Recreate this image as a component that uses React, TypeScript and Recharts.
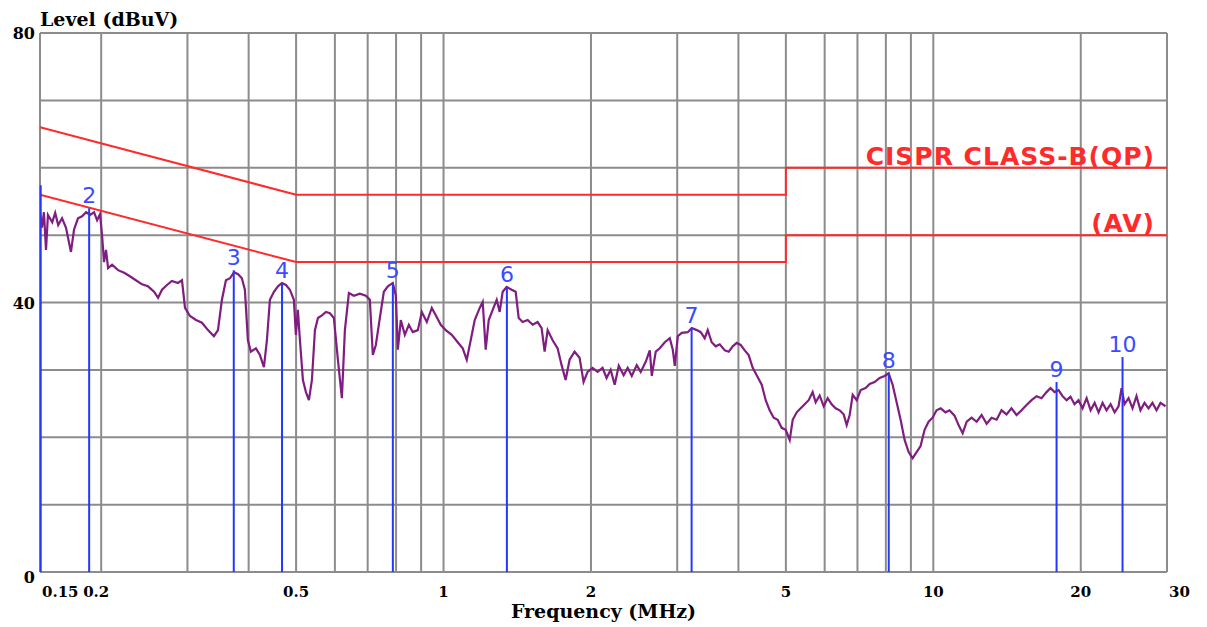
import React from 'react';
import {
  ComposedChart,
  Line,
  XAxis,
  YAxis,
  CartesianGrid,
  ReferenceLine,
  LabelList
} from 'recharts';

const traceFreq = [
  0.150, 0.1514, 0.1528, 0.1543, 0.1557, 0.1589, 0.1611, 0.1634, 0.1664, 0.1695,
  0.1735, 0.1760, 0.1793, 0.1828, 0.1863, 0.1898, 0.1934, 0.1962, 0.1989, 0.2008,
  0.2027, 0.2046, 0.2066, 0.2105, 0.2165, 0.2228, 0.2289, 0.2354, 0.2423, 0.2492,
  0.2564, 0.2613, 0.2662, 0.2725, 0.2789, 0.2869, 0.2924, 0.2966, 0.3036, 0.3123,
  0.3212, 0.3304, 0.3398, 0.3463, 0.3528, 0.3595, 0.3665, 0.3735, 0.3806, 0.3875,
  0.3930, 0.3986, 0.4043, 0.4139, 0.4218, 0.4298, 0.4359, 0.4421, 0.4505, 0.4591,
  0.4678, 0.4767, 0.4856, 0.4948, 0.4995, 0.5042, 0.5091, 0.5163, 0.5237, 0.5311,
  0.5386, 0.5463, 0.5541, 0.5645, 0.5752, 0.5861, 0.5972, 0.6086, 0.6201, 0.6289,
  0.6409, 0.6560, 0.6747, 0.6940, 0.7072, 0.7172, 0.7274, 0.7412, 0.7553, 0.7697,
  0.7879, 0.7991, 0.8067, 0.8180, 0.8336, 0.8495, 0.8655, 0.8862, 0.9028, 0.9244,
  0.9462, 0.9642, 0.9870, 1.0105, 1.0393, 1.0691, 1.0944, 1.1153, 1.1363, 1.1579,
  1.1854, 1.2022, 1.2193, 1.2367, 1.2600, 1.2840, 1.3021, 1.3206, 1.3457, 1.3775,
  1.4037, 1.4238, 1.4506, 1.4852, 1.5203, 1.5566, 1.5859, 1.6085, 1.6314, 1.6700,
  1.7098, 1.7420, 1.7752, 1.8087, 1.8517, 1.8957, 1.9317, 1.9685, 2.0150, 2.0631,
  2.1119, 2.1521, 2.194, 2.236, 2.279, 2.332, 2.377, 2.423, 2.480, 2.527,
  2.587, 2.637, 2.662, 2.712, 2.764, 2.830, 2.897, 2.938, 2.966, 3.008,
  3.065, 3.153, 3.212, 3.289, 3.351, 3.414, 3.463, 3.528, 3.595, 3.664,
  3.751, 3.823, 3.894, 3.968, 4.043, 4.120, 4.198, 4.278, 4.359, 4.463,
  4.547, 4.633, 4.721, 4.811, 4.902, 4.995, 5.091, 5.163, 5.262, 5.360,
  5.462, 5.566, 5.671, 5.752, 5.861, 5.972, 6.086, 6.200, 6.318, 6.439,
  6.561, 6.655, 6.749, 6.845, 6.975, 7.106, 7.275, 7.413, 7.589, 7.770,
  7.955, 8.106, 8.259, 8.416, 8.575, 8.738, 8.905, 9.072, 9.245, 9.419,
  9.598, 9.781, 9.966, 10.155, 10.35, 10.59, 10.79, 11.05, 11.26, 11.48,
  11.70, 11.97, 12.26, 12.55, 12.85, 13.15, 13.47, 13.78, 14.11, 14.44,
  14.79, 15.14, 15.50, 15.87, 16.25, 16.63, 17.03, 17.35, 17.68, 18.02,
  18.36, 18.71, 19.06, 19.42, 19.79, 20.17, 20.56, 20.95, 21.35, 21.75,
  22.16, 22.58, 23.01, 23.45, 23.89, 24.23, 24.57, 25.04, 25.51, 25.99,
  26.48, 26.99, 27.50, 28.02, 28.56, 29.10, 29.79
];
const traceLevel = [
  53.4, 51.1, 53.4, 47.8, 53.0, 51.9, 53.3, 51.5, 52.5, 51.1,
  47.5, 50.8, 52.5, 52.8, 53.4, 53.0, 53.4, 52.2, 53.1, 50.0,
  46.0, 47.8, 45.1, 45.6, 44.8, 44.4, 43.9, 43.3, 42.7, 42.4,
  41.6, 40.7, 41.9, 42.6, 43.2, 42.9, 43.3, 39.2, 38.0, 37.4,
  37.0, 35.9, 35.0, 35.9, 40.4, 43.3, 43.6, 44.5, 44.2, 43.6,
  41.9, 34.4, 32.7, 33.2, 32.2, 30.4, 34.4, 40.4, 41.6, 42.4,
  42.9, 42.6, 41.9, 40.4, 35.2, 38.9, 34.4, 28.5, 26.7, 25.5,
  28.5, 35.9, 37.7, 38.1, 38.6, 38.4, 37.7, 31.5, 25.8, 35.9,
  41.4, 41.0, 41.3, 41.0, 40.4, 32.2, 33.7, 37.7, 41.6, 42.4,
  42.9, 41.0, 33.0, 37.4, 35.2, 36.7, 35.6, 35.9, 38.6, 37.1,
  39.2, 38.1, 36.7, 35.9, 35.2, 34.1, 33.2, 31.5, 34.4, 37.4,
  39.2, 40.1, 33.0, 37.4, 38.9, 40.4, 38.6, 41.6, 42.3, 41.9,
  41.6, 37.7, 37.1, 37.4, 36.7, 37.1, 36.2, 32.7, 35.9, 34.4,
  33.2, 30.7, 28.5, 31.5, 32.7, 31.8, 28.2, 29.7, 30.3, 29.7,
  30.3, 28.8, 30.0, 27.8, 30.6, 29.2, 30.3, 29.1, 30.7, 29.7,
  31.2, 32.9, 29.1, 32.7, 33.2, 34.1, 34.7, 33.0, 30.6, 35.0,
  35.5, 35.6, 36.2, 35.9, 35.6, 34.7, 35.9, 34.1, 33.5, 33.8,
  32.9, 32.7, 33.5, 34.0, 33.7, 32.9, 32.2, 30.3, 29.2, 27.8,
  25.5, 24.0, 22.9, 22.6, 21.4, 21.1, 19.6, 22.6, 23.7, 24.3,
  24.9, 25.5, 26.7, 25.2, 26.2, 24.6, 25.8, 24.9, 24.3, 24.0,
  23.4, 21.8, 23.3, 26.3, 25.5, 27.0, 27.3, 27.9, 28.2, 28.8,
  29.1, 29.5, 27.8, 25.2, 22.6, 19.6, 17.8, 16.9, 17.8, 18.7,
  21.1, 22.3, 22.9, 24.0, 24.3, 23.7, 24.0, 23.2, 21.8, 20.6,
  22.3, 22.9, 22.3, 23.3, 22.0, 22.9, 22.6, 24.0, 23.4, 24.3,
  23.3, 24.0, 24.8, 25.5, 26.1, 25.8, 26.7, 27.3, 26.7, 27.0,
  26.1, 25.5, 26.0, 24.9, 25.5, 24.3, 25.8, 24.0, 25.1, 23.7,
  25.1, 24.0, 24.9, 23.7, 24.6, 27.3, 24.9, 25.8, 24.3, 26.1,
  24.0, 25.1, 24.3, 25.1, 24.0, 25.1, 24.6
];

// CISPR 22 class B limits
const qpFreq = [0.15, 0.5, 5, 5, 30];
const qpLevel = [66, 56, 56, 60, 60];
const avFreq = [0.15, 0.5, 5, 5, 30];
const avLevel = [56, 46, 46, 50, 50];
const qpCaption = 'CISPR CLASS-B(QP)';
const avCaption = '(AV)';

// peak markers
const markerFreq = [0.1505, 0.189, 0.373, 0.468, 0.788, 1.347, 3.21, 8.11, 17.85, 24.34];
const markerLevel = [57.4, 54.0, 44.8, 42.9, 42.9, 42.3, 36.2, 29.5, 28.2, 31.9];
const markerText = ['', '2', '3', '4', '5', '6', '7', '8', '9', '10'];

// axes
const gridFreq = [0.15, 0.2, 0.3, 0.4, 0.5, 0.6, 0.7, 0.8, 0.9, 1, 2, 3, 4, 5, 6, 7, 8, 9, 10, 20, 30];
const labelFreq = [0.15, 0.2, 0.5, 1, 2, 5, 10, 20, 30];
const labelFreqText = ['0.15', '0.2', '0.5', '1', '2', '5', '10', '20', '30'];
const levelTicks = [0, 10, 20, 30, 40, 50, 60, 70, 80];
const levelLabels = [0, 40, 80];

const traceData = traceFreq.map((f, i) => ({ f, v: traceLevel[i] }));
const qpData = qpFreq.map((f, i) => ({ f, v: qpLevel[i] }));
const avData = avFreq.map((f, i) => ({ f, v: avLevel[i] }));

const serif = 'DejaVu Serif, serif';
const sans = 'DejaVu Sans, sans-serif';

const FreqTick = (props: any) => {
  const { x, y, payload } = props;
  const i = labelFreq.indexOf(payload.value);
  if (i < 0) return <g />;
  let anchor = 'middle';
  let dx = 0;
  if (payload.value === 0.15 || payload.value === 30) {
    anchor = 'start';
    dx = 2;
  }
  if (payload.value === 0.2) dx = -5;
  return (
    <text x={x + dx} y={y + 25} textAnchor={anchor} fontFamily={serif} fontWeight="bold" fontSize={15} fill="#000">
      {labelFreqText[i]}
    </text>
  );
};

const LevelTick = (props: any) => {
  const { x, y, payload } = props;
  if (!levelLabels.includes(payload.value)) return <g />;
  const dy = payload.value === 0 ? 11 : 6;
  return (
    <text x={x} y={y + dy} textAnchor="end" fontFamily={serif} fontWeight="bold" fontSize={16} fill="#000">
      {payload.value}
    </text>
  );
};

const limitCaption = (text: string, lastIndex: number) => (props: any) => {
  const { x, y, index } = props;
  if (index !== lastIndex) return null;
  return (
    <text x={x - 12} y={y - 3} textAnchor="end" fontFamily={sans} fontWeight="bold" fontSize={25} fill="#ff2a2a" letterSpacing={1}>
      {text}
    </text>
  );
};

export default function App() {
  return (
    <div style={{ position: 'relative', width: 1190, height: 617, background: '#fff' }}>
      <div
        style={{
          position: 'absolute',
          left: 32,
          top: 0,
          fontFamily: serif,
          fontWeight: 'bold',
          fontSize: 19,
          lineHeight: '22px',
          color: '#000'
        }}
      >
        Level (dBuV)
      </div>
      <ComposedChart width={1190} height={617} margin={{ top: 25, right: 31, bottom: 0, left: 0 }}>
        <CartesianGrid stroke="#8c8c8c" strokeWidth={2} />
        <XAxis
          type="number"
          dataKey="f"
          scale="log"
          domain={[0.15, 30]}
          allowDataOverflow
          ticks={gridFreq}
          interval={0}
          tick={<FreqTick />}
          tickSize={0}
          tickMargin={0}
          axisLine={false}
          height={53}
          label={{
            value: 'Frequency (MHz)',
            position: 'insideBottom',
            offset: 7,
            fill: '#000',
            fontSize: 19,
            fontWeight: 'bold',
            fontFamily: serif
          }}
        />
        <YAxis
          type="number"
          domain={[0, 80]}
          ticks={levelTicks}
          interval={0}
          width={32}
          tick={<LevelTick />}
          tickSize={0}
          tickMargin={5}
          axisLine={false}
        />
        <Line
          data={qpData}
          dataKey="v"
          type="linear"
          stroke="#ff2a2a"
          strokeWidth={2}
          dot={false}
          isAnimationActive={false}
        >
          <LabelList dataKey="v" content={limitCaption(qpCaption, qpData.length - 1)} />
        </Line>
        <Line
          data={avData}
          dataKey="v"
          type="linear"
          stroke="#ff2a2a"
          strokeWidth={2}
          dot={false}
          isAnimationActive={false}
        >
          <LabelList dataKey="v" content={limitCaption(avCaption, avData.length - 1)} />
        </Line>
        <Line
          data={traceData}
          dataKey="v"
          type="linear"
          stroke="#7f1d80"
          strokeWidth={2.2}
          dot={false}
          isAnimationActive={false}
        />
        {markerFreq.map((f, i) => (
          <ReferenceLine
            key={`m-${i}`}
            segment={[{ x: f, y: 0 }, { x: f, y: markerLevel[i] }]}
            stroke="#2438ff"
            strokeWidth={2}
            label={
              markerText[i]
                ? { value: markerText[i], position: 'top', fill: '#3a4cff', fontSize: 22, fontFamily: sans }
                : undefined
            }
          />
        ))}
      </ComposedChart>
    </div>
  );
}
